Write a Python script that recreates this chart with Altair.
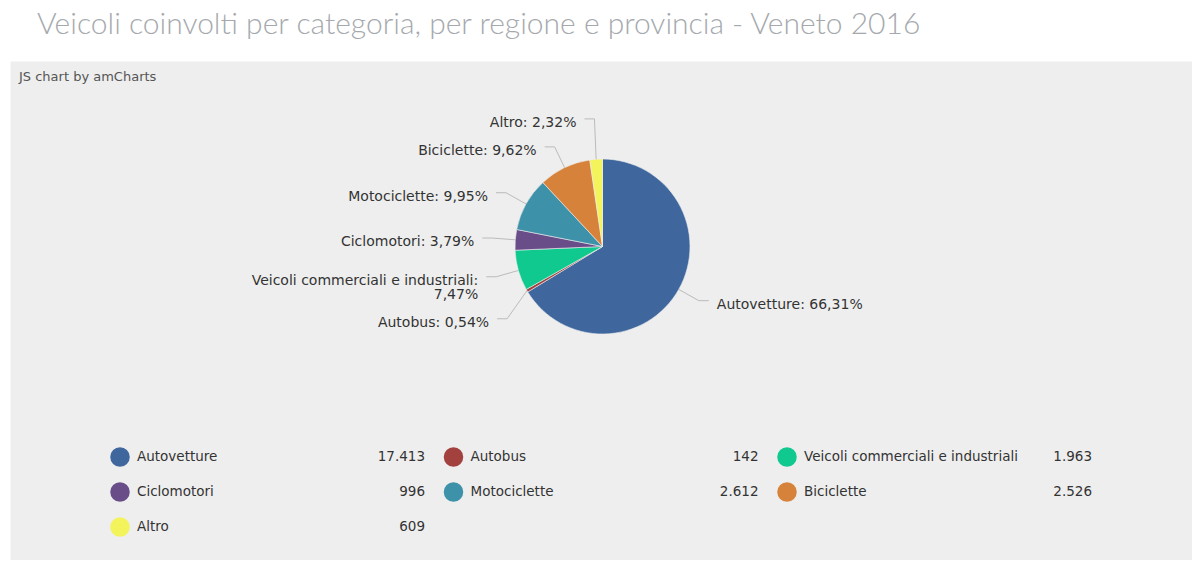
import math
import pandas as pd
import altair as alt

# dati: veicoli coinvolti per categoria, Veneto 2016
categorie = ["Autovetture", "Autobus", "Veicoli commerciali e industriali",
             "Ciclomotori", "Motociclette", "Biciclette", "Altro"]
veicoli = [17413, 142, 1963, 996, 2612, 2526, 609]
colori = ["#3f679e", "#a2413e", "#0fc98f", "#684d89", "#3d91a8", "#d7823b", "#f3f35c"]

titolo = "Veicoli coinvolti per categoria, per regione e provincia - Veneto 2016"
credito = "JS chart by amCharts"

W, H = 1182, 499
CX, CY, R = 592.5, 185.5, 87.5
FONT = "DejaVu Sans"

totale = sum(veicoli)


def perc(v):
    return f"{v / totale * 100:.2f}".replace(".", ",") + "%"


def migliaia(v):
    return f"{v:,}".replace(",", ".")


#%% posizione delle etichette della torta
etichette = []
cum = 0
for i, (c, v) in enumerate(zip(categorie, veicoli)):
    mid = (cum + v / 2) / totale * 2 * math.pi
    cum += v
    s, co = math.sin(mid), math.cos(mid)
    testo = f"{c}: {perc(v)}"
    righe = [c + ":", perc(v)] if len(testo) > 30 else [testo]
    etichette.append(dict(cat=c, x0=CX + R * s, y0=CY - R * co,
                          x1=CX + (R + 23) * s, y1=CY - (R + 23) * co,
                          lato=1 if s > 0 else -1, righe=righe))

# evita le sovrapposizioni, come fa amCharts
for lato in (1, -1):
    sopra = sorted([e for e in etichette if e["lato"] == lato and e["y1"] < CY],
                   key=lambda e: -e["y1"])
    sotto = sorted([e for e in etichette if e["lato"] == lato and e["y1"] >= CY],
                   key=lambda e: e["y1"])
    for a, b in zip(sopra, sopra[1:]):
        gap = 28 + 14 * (len(b["righe"]) - 1)
        b["y1"] = min(b["y1"], a["y1"] - gap)
    for a, b in zip(sotto, sotto[1:]):
        gap = 28 + 14 * (len(a["righe"]) - 1)
        b["y1"] = max(b["y1"], a["y1"] + gap)

linee = []
testi = []
for e in etichette:
    linee.append(dict(cat=e["cat"], k=0, x=e["x0"], y=e["y0"]))
    linee.append(dict(cat=e["cat"], k=1, x=e["x1"], y=e["y1"]))
    linee.append(dict(cat=e["cat"], k=2, x=e["x1"] + e["lato"] * 10, y=e["y1"]))
    for k, r in enumerate(e["righe"]):
        testi.append(dict(riga=r, lato=e["lato"], x=e["x1"] + e["lato"] * 18,
                          y=e["y1"] + 14 * k + 4))

linee = pd.DataFrame(linee)
testi = pd.DataFrame(testi)

torta = pd.DataFrame({"cat": categorie, "valore": veicoli, "i": range(len(categorie))})

legenda = pd.DataFrame({
    "cat": categorie,
    "numero": [migliaia(v) for v in veicoli],
    "col": [i % 3 for i in range(len(categorie))],
    "row": [i // 3 for i in range(len(categorie))],
})
legenda["cx"] = 110 + legenda["col"] * 333.5
legenda["ty"] = 396 + legenda["row"] * 35
legenda["nx"] = legenda["cx"] + 17
legenda["vx"] = legenda["cx"] + 305

#%% grafico
xs = alt.Scale(domain=[0, W], nice=False, zero=False)
ys = alt.Scale(domain=[0, H], nice=False, zero=False, reverse=True)
colore = alt.Color("cat:N", scale=alt.Scale(domain=categorie, range=colori), legend=None)

pie = alt.Chart(torta).mark_arc(radius=R, stroke="#eeeeee", strokeWidth=0.6).encode(
    theta=alt.Theta("valore:Q", stack=True),
    color=colore,
    order=alt.Order("i:Q"),
    x=alt.value(CX),
    y=alt.value(CY),
)

guide = alt.Chart(linee).mark_line(color="#bbbbbb", strokeWidth=1).encode(
    x=alt.X("x:Q", scale=xs, axis=None),
    y=alt.Y("y:Q", scale=ys, axis=None),
    detail="cat:N",
    order="k:Q",
)

txt_sx = alt.Chart(testi).transform_filter("datum.lato < 0").mark_text(
    align="right", baseline="middle", font=FONT, fontSize=14, color="#333333"
).encode(x=alt.X("x:Q", scale=xs), y=alt.Y("y:Q", scale=ys), text="riga:N")

txt_dx = alt.Chart(testi).transform_filter("datum.lato > 0").mark_text(
    align="left", baseline="middle", font=FONT, fontSize=14, color="#333333"
).encode(x=alt.X("x:Q", scale=xs), y=alt.Y("y:Q", scale=ys), text="riga:N")

pallini = alt.Chart(legenda).mark_circle(size=380, opacity=1).encode(
    x=alt.X("cx:Q", scale=xs), y=alt.Y("ty:Q", scale=ys), color=colore
)
nomi = alt.Chart(legenda).mark_text(
    align="left", baseline="middle", font=FONT, fontSize=13.5, color="#333333"
).encode(x=alt.X("nx:Q", scale=xs), y=alt.Y("ty:Q", scale=ys), text="cat:N")
numeri = alt.Chart(legenda).mark_text(
    align="right", baseline="middle", font=FONT, fontSize=13.5, color="#333333"
).encode(x=alt.X("vx:Q", scale=xs), y=alt.Y("ty:Q", scale=ys), text="numero:N")

firma = alt.Chart(pd.DataFrame({"t": [credito]})).mark_text(
    align="left", baseline="middle", font=FONT, fontSize=13, color="#555555"
).encode(x=alt.value(9), y=alt.value(16), text="t:N")

chart = alt.layer(pie, guide, txt_sx, txt_dx, pallini, nomi, numeri, firma).properties(
    width=W,
    height=H,
    padding={"left": 2, "top": 1, "right": 0, "bottom": 0},
    background="white",
    title=alt.Title(titolo, anchor="start", font="Lato", fontSize=30, fontWeight=300,
                    color="#a5a9ad", dx=27, offset=21.5),
).configure_view(fill="#eeeeee", stroke="transparent")

chart.save("out.html", embed_options={"renderer": "svg", "actions": False})
